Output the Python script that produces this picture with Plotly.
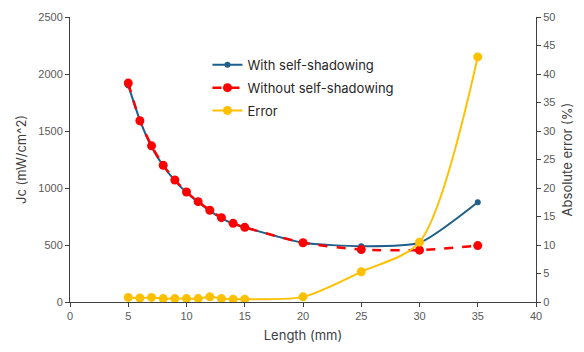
import plotly.graph_objects as go

# Sample lengths (mm)
length = [5, 6, 7, 8, 9, 10, 11, 12, 13, 14, 15, 20, 25, 30, 35]

# Jc with and without self-shadowing (mW/cm^2)
jc_with = [1900, 1595, 1360, 1195, 1065, 960, 875, 800, 735, 685, 655, 520, 490, 520, 875]
jc_without = [1920, 1590, 1370, 1200, 1070, 965, 880, 805, 740, 690, 655, 520, 460, 455, 495]

# Absolute error between the two (%)
abs_error = [0.8, 0.7, 0.8, 0.6, 0.6, 0.6, 0.6, 0.9, 0.6, 0.5, 0.5, 0.9, 5.3, 10.5, 43.0]

x_ticks = [0, 5, 10, 15, 20, 25, 30, 35, 40]

BLUE = "#1f5f8b"
RED = "#ff0000"
GOLD = "#ffc000"
AXIS = "#404040"
TICKFONT = dict(family="Liberation Sans, Arial, sans-serif", size=11, color="#595959")
TITLEFONT = dict(family="Inter, sans-serif", size=13, color="#404040")

fig = go.Figure()
fig.add_trace(go.Scatter(
    x=length, y=jc_with, name="With self-shadowing", legendgroup="a",
    mode="lines+markers", line=dict(color=BLUE, width=2, shape="spline", smoothing=0.6),
    marker=dict(color=BLUE, size=6),
))
fig.add_trace(go.Scatter(
    x=length, y=jc_without, name="Without self-shadowing", legendgroup="b",
    mode="lines+markers", line=dict(color=RED, width=2.5, dash="dash", shape="spline", smoothing=0.6),
    marker=dict(color=RED, size=9),
))
fig.add_trace(go.Scatter(
    x=length, y=abs_error, name="Error", yaxis="y2", legendgroup="c",
    mode="lines+markers", line=dict(color=GOLD, width=2, shape="spline", smoothing=0.8),
    marker=dict(color=GOLD, size=9),
))

fig.update_layout(
    width=584, height=352,
    margin=dict(l=70, r=46, t=11, b=50),
    paper_bgcolor="white", plot_bgcolor="white",
    showlegend=True,
    legend=dict(
        x=0.295, y=0.885, xanchor="left", yanchor="top",
        bgcolor="rgba(0,0,0,0)",
        font=dict(family="Inter, sans-serif", size=13, color="#262626"),
        itemwidth=30, tracegroupgap=3,
    ),
    xaxis=dict(
        range=[0, 40], tickvals=x_ticks, ticks="outside", ticklen=4,
        tickcolor=AXIS, showline=True, linecolor=AXIS, linewidth=1,
        showgrid=False, zeroline=False, tickfont=TICKFONT,
        title=dict(text="Length (mm)", font=TITLEFONT, standoff=9),
    ),
    yaxis=dict(
        range=[0, 2500], dtick=500, ticks="outside", ticklen=4,
        tickcolor=AXIS, showline=True, linecolor=AXIS, linewidth=1,
        showgrid=False, zeroline=False, tickfont=TICKFONT,
        title=dict(text="Jc (mW/cm^2)", font=TITLEFONT, standoff=8),
    ),
    yaxis2=dict(
        range=[0, 50], dtick=5, overlaying="y", side="right",
        ticks="outside", ticklen=4, tickcolor=AXIS,
        showline=True, linecolor=AXIS, linewidth=1,
        showgrid=False, zeroline=False, tickfont=TICKFONT,
        title=dict(text="Absolute error (%)", font=TITLEFONT, standoff=8),
    ),
)

fig.write_html("out.html")
